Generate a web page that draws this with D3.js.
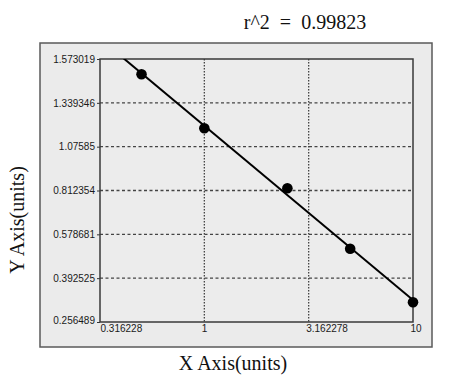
<!DOCTYPE html>
<html>
<head>
<meta charset="utf-8">
<script src="https://cdn.jsdelivr.net/npm/d3@7"></script>
<style>
  html, body { margin: 0; padding: 0; background: #ffffff; }
  svg { display: block; }
</style>
</head>
<body>
<div id="chart"></div>
<script>
// ---- data ----
const xTickValues = [0.316228, 1, 3.162278, 10];
const xTickLabels = ["0.316228", "1", "3.162278", "10"];
const yTickValues = [0.256489, 0.392525, 0.578681, 0.812354, 1.07585, 1.339346, 1.573019];
const yTickLabels = ["0.256489", "0.392525", "0.578681", "0.812354", "1.07585", "1.339346", "1.573019"];
const concentrations = [0.5, 1, 2.5, 5, 10];
const responses = [1.4915, 1.1863, 0.8255, 0.5176, 0.3176];
const rSquaredText = "r^2  =  0.99823";
const xTitle = "X Axis(units)";
const yTitle = "Y Axis(units)";

// ---- layout ----
const W = 449, H = 383;
const panel = { x: 40, y: 43, w: 392, h: 304 };
const plot = { left: 100, top: 59, right: 413, bottom: 322 };

const svg = d3.select("#chart").append("svg")
  .attr("width", W).attr("height", H);

// panel
svg.append("rect")
  .attr("x", panel.x).attr("y", panel.y)
  .attr("width", panel.w).attr("height", panel.h)
  .attr("fill", "#ebebeb").attr("stroke", "#5a5a5a").attr("stroke-width", 1.5);

// scales
const x = d3.scaleLog().domain([xTickValues[0], xTickValues[xTickValues.length - 1]])
  .range([plot.left, plot.right]);
const yRange = yTickValues.map((d, i) =>
  plot.bottom - i * (plot.bottom - plot.top) / (yTickValues.length - 1));
const y = d3.scaleLinear().domain(yTickValues).range(yRange);

// plot background
svg.append("rect")
  .attr("x", plot.left).attr("y", plot.top)
  .attr("width", plot.right - plot.left).attr("height", plot.bottom - plot.top)
  .attr("fill", "#ececec");

// gridlines
const grid = svg.append("g");
grid.selectAll("line.hg")
  .data(yTickValues.slice(1, -1))
  .enter().append("line")
  .attr("x1", plot.left).attr("x2", plot.right)
  .attr("y1", d => y(d)).attr("y2", d => y(d))
  .attr("stroke", "#444").attr("stroke-width", 1.3)
  .attr("stroke-dasharray", "3,2.5");
grid.selectAll("line.vg")
  .data(xTickValues.slice(1, -1))
  .enter().append("line")
  .attr("x1", d => x(d)).attr("x2", d => x(d))
  .attr("y1", plot.top).attr("y2", plot.bottom)
  .attr("stroke", "#444").attr("stroke-width", 1.3)
  .attr("stroke-dasharray", "1.5,1.5");

// axes (D3 axes, styled)
const yAxis = d3.axisLeft(y).tickValues(yTickValues)
  .tickFormat((d, i) => yTickLabels[i]).tickSize(3).tickPadding(2);
const gy = svg.append("g").attr("transform", `translate(${plot.left},0)`).call(yAxis);
gy.select(".domain").remove();
gy.selectAll(".tick line").attr("stroke", "#333");
gy.selectAll(".tick text")
  .attr("font-family", "'Liberation Sans', Arial, sans-serif")
  .attr("font-size", 10).attr("fill", "#1a1a1a")
  .attr("dy", (d, i) => i === 0 ? "0.1em" : "0.32em");

const xAxis = d3.axisBottom(x).tickValues(xTickValues)
  .tickFormat((d, i) => xTickLabels[i]).tickSize(0).tickPadding(3);
const gx = svg.append("g").attr("transform", `translate(0,${plot.bottom})`).call(xAxis);
gx.select(".domain").remove();
gx.selectAll(".tick text")
  .attr("font-family", "'Liberation Sans', Arial, sans-serif")
  .attr("font-size", 10).attr("fill", "#1a1a1a")
  .attr("text-anchor", "start")
  .attr("x", (d, i) => i === 0 ? 0 : -3);

// plot frame
svg.append("rect")
  .attr("x", plot.left).attr("y", plot.top)
  .attr("width", plot.right - plot.left).attr("height", plot.bottom - plot.top)
  .attr("fill", "none").attr("stroke", "#3a3a3a").attr("stroke-width", 1.5);

// fit line (least squares in display space), clipped to plot
const pts = concentrations.map((c, i) => [x(c), y(responses[i])]);
const mx = d3.mean(pts, p => p[0]), my = d3.mean(pts, p => p[1]);
const slope = d3.sum(pts, p => (p[0] - mx) * (p[1] - my)) / d3.sum(pts, p => (p[0] - mx) ** 2);
const fitY = px => my + slope * (px - mx);

svg.append("clipPath").attr("id", "clip")
  .append("rect")
  .attr("x", plot.left).attr("y", plot.top)
  .attr("width", plot.right - plot.left).attr("height", plot.bottom - plot.top);

const fitXs = x.range();
svg.append("path")
  .datum(fitXs)
  .attr("clip-path", "url(#clip)")
  .attr("d", d3.line().x(d => d).y(d => fitY(d)))
  .attr("fill", "none").attr("stroke", "#000").attr("stroke-width", 2);

// points
svg.selectAll("circle.pt")
  .data(concentrations)
  .enter().append("circle")
  .attr("cx", d => x(d))
  .attr("cy", (d, i) => y(responses[i]))
  .attr("r", 5.3)
  .attr("fill", "#000");

// titles
svg.append("text")
  .attr("x", 305).attr("y", 29)
  .attr("text-anchor", "middle")
  .attr("font-family", "'Liberation Serif', 'Times New Roman', serif")
  .attr("font-size", 20).attr("fill", "#111")
  .attr("xml:space", "preserve")
  .style("white-space", "pre")
  .text(rSquaredText);

svg.append("text")
  .attr("x", 233).attr("y", 370)
  .attr("text-anchor", "middle")
  .attr("font-family", "'Liberation Serif', 'Times New Roman', serif")
  .attr("font-size", 20).attr("fill", "#111")
  .text(xTitle);

svg.append("text")
  .attr("transform", "translate(24,220) rotate(-90)")
  .attr("text-anchor", "middle")
  .attr("font-family", "'Liberation Serif', 'Times New Roman', serif")
  .attr("font-size", 20).attr("fill", "#111")
  .text(yTitle);
</script>
</body>
</html>
